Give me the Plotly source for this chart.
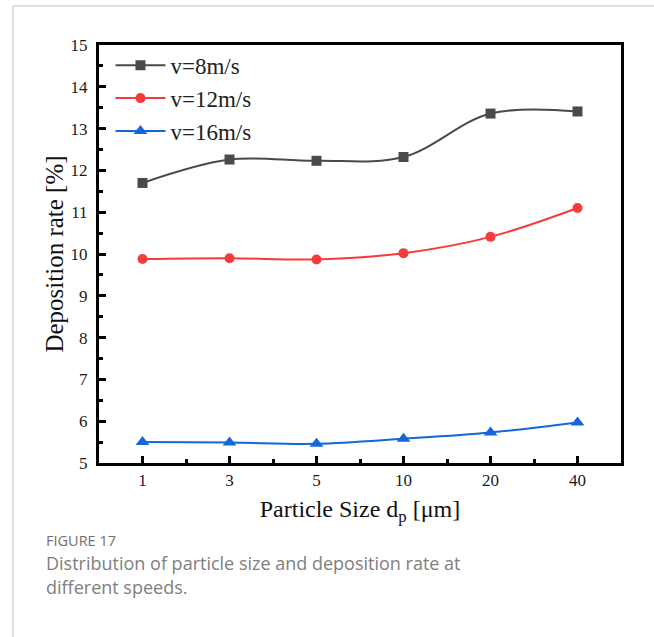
import plotly.graph_objects as go

categories = ["1", "3", "5", "10", "20", "40"]
v8 = [11.70, 12.26, 12.23, 12.32, 13.36, 13.41]
v12 = [9.88, 9.90, 9.87, 10.02, 10.41, 11.10]
v16 = [5.50, 5.49, 5.46, 5.58, 5.73, 5.97]
series_names = ["v=8m/s", "v=12m/s", "v=16m/s"]
yticks = [5, 6, 7, 8, 9, 10, 11, 12, 13, 14, 15]

xpos = list(range(len(categories)))
serif = "Liberation Serif, Times New Roman, serif"

styles = [
    dict(color="#4a4a4a", symbol="square", size=10),
    dict(color="#f53b3b", symbol="circle", size=10),
    dict(color="#1467d6", symbol="triangle-up", size=12),
]

fig = go.Figure()
for name, vals, st in zip(series_names, [v8, v12, v16], styles):
    fig.add_trace(go.Scatter(
        x=xpos, y=vals, name=name, mode="lines+markers",
        line=dict(color=st["color"], width=2, shape="spline", smoothing=1),
        marker=dict(color=st["color"], symbol=st["symbol"], size=st["size"]),
    ))

fig.update_layout(
    width=654, height=637,
    margin=dict(l=99, r=33, t=45, b=174),
    paper_bgcolor="white", plot_bgcolor="white",
    showlegend=True,
    legend=dict(x=0.022, y=1.003, xanchor="left", yanchor="top",
                bgcolor="rgba(0,0,0,0)", font=dict(family=serif, size=23, color="#222"),
                itemwidth=50, tracegroupgap=0),
    font=dict(family=serif, color="#222"),
)

fig.update_xaxes(
    range=[-0.5, len(categories) - 0.5],
    tickmode="array", tickvals=xpos, ticktext=categories,
    ticks="inside", ticklen=7, tickwidth=3, tickcolor="black",
    minor=dict(ticks="inside", ticklen=4, tickwidth=3, tickcolor="black", dtick=0.5, tick0=0, showgrid=False),
    showline=True, linewidth=3, linecolor="black", mirror=True,
    showgrid=False, zeroline=False,
    tickfont=dict(family=serif, size=17, color="#1a1a1a"),
    title=dict(text="Particle Size d<sub>p</sub> [μm]", font=dict(family=serif, size=24, color="#111"), standoff=11),
)
fig.update_yaxes(
    range=[5, 15],
    tickmode="array", tickvals=yticks,
    ticks="inside", ticklen=7, tickwidth=3, tickcolor="black",
    minor=dict(ticks="inside", ticklen=4, tickwidth=3, tickcolor="black", dtick=0.5, tick0=5, showgrid=False),
    showline=True, linewidth=3, linecolor="black", mirror=True,
    showgrid=False, zeroline=False,
    ticklabelstandoff=5,
    tickfont=dict(family=serif, size=17, color="#1a1a1a"),
    title=dict(text="Deposition rate [%]", font=dict(family=serif, size=25, color="#111"), standoff=0),
)

# card border (light gray) at top and left
fig.add_shape(type="line", xref="paper", yref="paper", x0=-0.1648, x1=1.07, y0=1.0933, y1=1.0933,
              line=dict(color="#d4d4d4", width=1.5))
fig.add_shape(type="line", xref="paper", yref="paper", x0=-0.1648, x1=-0.1648, y0=1.0933, y1=-0.42,
              line=dict(color="#d4d4d4", width=1.5))

cap_font = "Open Sans, Noto Sans, sans-serif"
fig.add_annotation(text="FIGURE 17", xref="paper", yref="paper", x=-0.1054, y=-0.1866,
                   xanchor="left", yanchor="middle", showarrow=False,
                   font=dict(family=cap_font, size=14.5, color="#707070"))
fig.add_annotation(text="Distribution of particle size and deposition rate at", xref="paper", yref="paper",
                   x=-0.1054, y=-0.239, xanchor="left", yanchor="middle", showarrow=False,
                   font=dict(family=cap_font, size=18, color="#808080"))
fig.add_annotation(text="different speeds.", xref="paper", yref="paper",
                   x=-0.1054, y=-0.2967, xanchor="left", yanchor="middle", showarrow=False,
                   font=dict(family=cap_font, size=18, color="#808080"))

fig.write_html("out.html", config={"displayModeBar": False},
               post_script="document.body.style.margin='0';document.body.style.overflow='hidden';")
